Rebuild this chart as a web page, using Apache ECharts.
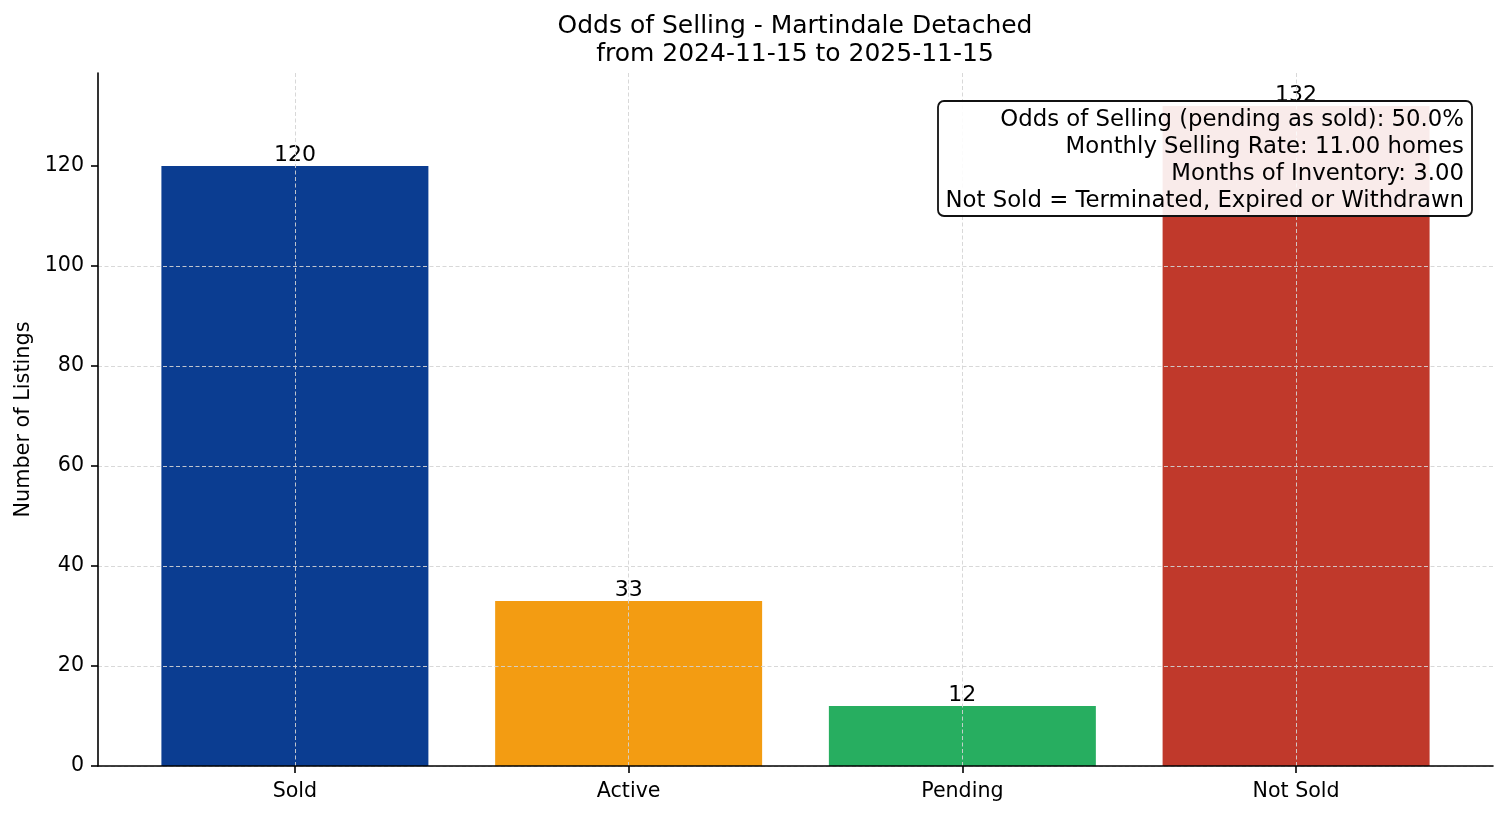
<!DOCTYPE html>
<html>
<head>
<meta charset="utf-8">
<script src="https://cdn.jsdelivr.net/npm/echarts@6/dist/echarts.min.js"></script>
<style>
html,body{margin:0;padding:0;background:#fff;}
#chart{width:1507px;height:816px;}
</style>
</head>
<body>
<div id="chart"></div>
<script>
const categories = ['Sold', 'Active', 'Pending', 'Not Sold'];
const counts = [120, 33, 12, 132];
const barColors = ['#0b3d91', '#f39c12', '#27ae60', '#c0392b'];
const yTicks = [0, 20, 40, 60, 80, 100, 120];
const titleLines = ['Odds of Selling - Martindale Detached', 'from 2024-11-15 to 2025-11-15'];
const noteLines = [
  'Odds of Selling (pending as sold): 50.0%',
  'Monthly Selling Rate: 11.00 homes',
  'Months of Inventory: 3.00',
  'Not Sold = Terminated, Expired or Withdrawn'
];

const FONT = 'DejaVu Sans';
const xPos = categories.map((c, i) => i);
const gridLine = { show: true, lineStyle: { color: '#d4d4d4', width: 0.9, type: [4, 2.5] } };

const chart = echarts.init(document.getElementById('chart'));
chart.setOption({
  backgroundColor: '#ffffff',
  animation: false,
  title: [
    {
      text: titleLines.join('\n'),
      left: 795, top: 12, padding: 0,
      textAlign: 'center',
      textStyle: { fontFamily: FONT, fontSize: 25, fontWeight: 'normal', color: '#000', lineHeight: 28.5 }
    },
    {
      text: noteLines.join('\n'),
      left: 1456, top: 101,
      textAlign: 'right',
      padding: [6, 8, 2, 8],
      backgroundColor: 'rgba(255,255,255,0.9)',
      borderColor: '#111',
      borderWidth: 1.8,
      borderRadius: 6,
      textStyle: { fontFamily: FONT, fontSize: 22.8, fontWeight: 'normal', color: '#000', lineHeight: 26.8 }
    }
  ],
  grid: { left: 98, right: 14, top: 73, bottom: 50, containLabel: false },
  xAxis: {
    type: 'value',
    min: -0.59, max: 3.59,
    z: 3,
    axisLine: { show: true, onZero: false, lineStyle: { color: '#000', width: 1.6 } },
    axisTick: { show: true, inside: false, length: 7, lineStyle: { color: '#000', width: 1.6 }, customValues: xPos },
    axisLabel: {
      show: true, customValues: xPos, margin: 15,
      fontFamily: FONT, fontSize: 20.6, color: '#000',
      formatter: v => categories[Math.round(v)]
    },
    splitLine: gridLine
  },
  yAxis: {
    type: 'value',
    min: 0, max: 138.6,
    z: 3,
    name: 'Number of Listings',
    nameLocation: 'middle',
    nameGap: 64,
    nameTextStyle: { fontFamily: FONT, fontSize: 20.8, color: '#000' },
    axisLine: { show: true, onZero: false, lineStyle: { color: '#000', width: 1.6 } },
    axisTick: { show: true, inside: false, length: 7, lineStyle: { color: '#000', width: 1.6 }, customValues: yTicks },
    axisLabel: { show: true, customValues: yTicks, margin: 14, padding: [3, 0, 0, 0], fontFamily: FONT, fontSize: 20.6, color: '#000' },
    splitLine: Object.assign({ showMaxLine: false }, gridLine)
  },
  series: [{
    type: 'bar',
    barWidth: '80%',
    data: counts.map((v, i) => ({ value: [i, v], itemStyle: { color: barColors[i] } })),
    label: {
      show: true, position: 'top', distance: 0,
      fontFamily: FONT, fontSize: 22, color: '#000',
      formatter: p => String(p.value[1])
    }
  }]
});
</script>
</body>
</html>
